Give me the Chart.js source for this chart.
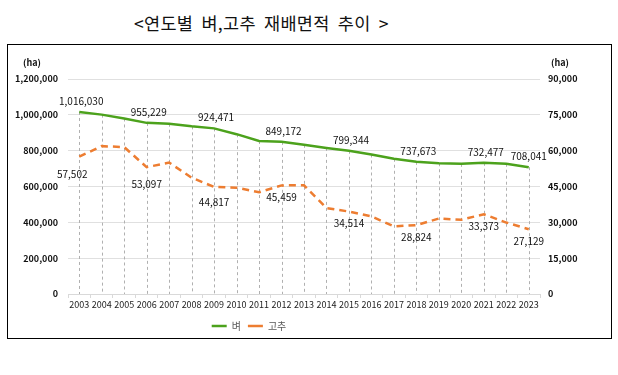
<!DOCTYPE html>
<html>
<head>
<meta charset="utf-8">
<script src="https://cdn.jsdelivr.net/npm/chart.js"></script>
<style>
  body { margin: 0; background: #fff; }
  #title { position: absolute; left: 134px; top: 10px; white-space: nowrap;
           font-family: "Noto Sans CJK KR", sans-serif; font-size: 17.5px; color: #111; word-spacing: 4px; letter-spacing: 0.3px; }
  #frame { position: absolute; left: 7px; top: 44px; width: 603px; height: 293px; border: 1.5px solid #000; }
  #wrap { position: absolute; left: 0; top: 0; width: 618px; height: 375px; }
</style>
</head>
<body>
<div id="title">&lt;연도별 벼,고추 재배면적 추이 &gt;</div>
<div id="frame"></div>
<div id="wrap"><canvas id="areaChart" width="618" height="375"></canvas></div>
<script>
    const years = ['2003','2004','2005','2006','2007','2008','2009','2010','2011','2012','2013',
                   '2014','2015','2016','2017','2018','2019','2020','2021','2022','2023'];
    // 벼 (left axis, ha)
    const rice = [1016030, 1001159, 979717, 955229, 950250, 935766, 924471, 892074, 853823, 849172, 832625,
                  815506, 799344, 778734, 754713, 737673, 729814, 726432, 732477, 727158, 708041];
    // 고추 (right axis, ha)
    const pepper = [57502, 61900, 61500, 53097, 55000, 48700, 44817, 44500, 42600, 45459, 45500,
                    36000, 34514, 32500, 28300, 28824, 31600, 31100, 33373, 29900, 27129];
    // which points carry a value label
    const riceLabelIdx = [0, 3, 6, 9, 12, 15, 18, 20];
    const pepperLabelIdx = [0, 3, 6, 9, 12, 15, 18, 20];

    const fontFamily = '"Noto Sans CJK KR", "Open Sans", sans-serif';
    const fmt = v => v.toLocaleString('en-US');

    // dashed drop lines from the rice line down to the x axis
    const dropLines = {
        id: 'dropLines',
        beforeDatasetsDraw(chart) {
            const ctx = chart.ctx;
            const pts = chart.getDatasetMeta(0).data;
            const bottom = chart.scales.yL.bottom;
            ctx.save();
            ctx.strokeStyle = '#b0b0b0';
            ctx.lineWidth = 1;
            ctx.setLineDash([3, 3]);
            pts.forEach(p => {
                ctx.beginPath();
                ctx.moveTo(Math.round(p.x) + 0.5, p.y);
                ctx.lineTo(Math.round(p.x) + 0.5, bottom);
                ctx.stroke();
            });
            ctx.restore();
        }
    };

    // value labels and the (ha) unit labels
    const valueLabels = {
        id: 'valueLabels',
        afterLayout(chart) {
            // legend sits left of centre in the original
            chart.legend.left -= 60;
            chart.legend.right -= 60;
        },
        afterDatasetsDraw(chart) {
            const ctx = chart.ctx;
            ctx.save();
            ctx.font = '10px ' + fontFamily;
            ctx.fillStyle = '#111';
            ctx.textAlign = 'center';
            ctx.textBaseline = 'middle';
            const rp = chart.getDatasetMeta(0).data;
            riceLabelIdx.forEach(i => {
                const dx = i === 20 ? 0 : 2;
                ctx.fillText(fmt(rice[i]), rp[i].x + dx, rp[i].y - 11);
            });
            const pp = chart.getDatasetMeta(1).data;
            const dys = [17.5, 17, 15];
            pepperLabelIdx.forEach((i, k) => {
                const dx = i === 0 ? -7 : 0;
                const dy = k < dys.length ? dys[k] : 12;
                ctx.fillText(fmt(pepper[i]), pp[i].x + dx, pp[i].y + dy);
            });
            ctx.font = 'bold 9px ' + fontFamily;
            const a = chart.chartArea;
            ctx.fillText('(ha)', a.left - 36, a.top - 16);
            ctx.fillText('(ha)', a.right + 20, a.top - 16);
            ctx.restore();
        }
    };

    new Chart(document.getElementById('areaChart'), {
        type: 'line',
        data: {
            labels: years,
            datasets: [{
                label: '벼',
                data: rice,
                yAxisID: 'yL',
                borderColor: '#4ca21c',
                backgroundColor: '#4ca21c',
                borderWidth: 2.5,
                pointRadius: 0,
                tension: 0
            }, {
                label: '고추',
                data: pepper,
                yAxisID: 'yR',
                borderColor: '#ed7d31',
                backgroundColor: '#ed7d31',
                borderWidth: 2.5,
                borderDash: [7, 5],
                pointRadius: 0,
                tension: 0
            }]
        },
        options: {
            responsive: false,
            animation: false,
            layout: { padding: { top: 79, bottom: 34, left: 0, right: 0 } },
            plugins: {
                legend: {
                    position: 'bottom',
                    labels: {
                        usePointStyle: true,
                        pointStyle: 'line',
                        pointStyleWidth: 15,
                        boxHeight: 10,
                        padding: 7,
                        color: '#595959',
                        font: { family: fontFamily, size: 10 }
                    }
                },
                tooltip: { enabled: false }
            },
            scales: {
                x: {
                    offset: true,
                    grid: { display: true, drawOnChartArea: false, drawTicks: true, tickLength: 4, color: '#d9d9d9', offset: true },
                    border: { color: '#d9d9d9' },
                    ticks: { color: '#222', font: { family: fontFamily, size: 9 }, maxRotation: 0, autoSkip: false, padding: 1 },
                    afterFit(scale) { scale.height = 20; }
                },
                yL: {
                    position: 'left',
                    min: 0, max: 1200000,
                    ticks: { stepSize: 200000, color: '#111', padding: 10,
                             font: { family: fontFamily, size: 9, weight: 'bold' },
                             callback: v => fmt(v) },
                    grid: { color: '#e0e0e0', drawTicks: false },
                    border: { display: false },
                    afterFit(scale) { scale.width = 68; }
                },
                yR: {
                    position: 'right',
                    min: 0, max: 90000,
                    ticks: { stepSize: 15000, color: '#111', padding: 8,
                             font: { family: fontFamily, size: 9, weight: 'bold' },
                             callback: v => fmt(v) },
                    grid: { display: false, drawTicks: false },
                    border: { display: false },
                    afterFit(scale) { scale.width = 78; }
                }
            }
        },
        plugins: [dropLines, valueLabels]
    });
</script>
</body>
</html>
